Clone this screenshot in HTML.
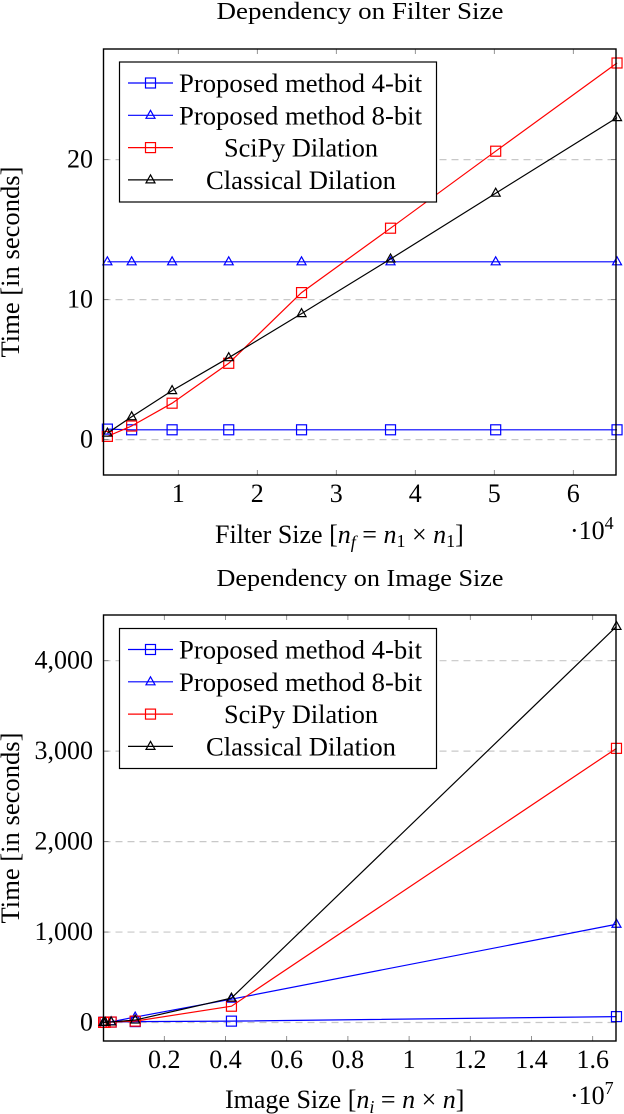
<!DOCTYPE html>
<html><head><meta charset="utf-8"><style>
html,body{margin:0;padding:0;background:#fff;}
svg{display:block;font-family:"Liberation Serif",serif;}
</style></head><body>
<svg id="chart" width="624" height="1114" viewBox="0 0 624 1114" xmlns="http://www.w3.org/2000/svg"></svg>
<script>
// ---- Top chart data ----
const filterSizes = [1024, 4096, 9216, 16384, 25600, 36864, 50176, 65536];
const filter4bit = [0.75, 0.7, 0.7, 0.7, 0.7, 0.7, 0.7, 0.7];
const filter8bit = [12.7, 12.7, 12.7, 12.7, 12.7, 12.7, 12.7, 12.7];
const filterScipy = [0.23, 0.97, 2.6, 5.45, 10.5, 15.1, 20.6, 26.9];
const filterClassical = [0.46, 1.63, 3.5, 5.85, 9.0, 12.9, 17.6, 23.0];
const filterXTicks = [1, 2, 3, 4, 5, 6];
const filterYTicks = [0, 10, 20];
// ---- Bottom chart data ----
const imageSizes = [16384, 65536, 262144, 1048576, 4194304, 16777216];
const image4bit = [2, 3, 5, 10, 15, 65];
const image8bit = [1, 2, 8, 60, 258, 1086];
const imageScipy = [1, 1, 5, 15, 180, 3031];
const imageClassical = [1, 2, 6, 27, 270, 4379];
const imageXTicks = [0.2, 0.4, 0.6, 0.8, 1, 1.2, 1.4, 1.6];
const imageYTicks = [0, 1000, 2000, 3000, 4000];
const imageYTickLabels = ["0", "1,000", "2,000", "3,000", "4,000"];

const NS = "http://www.w3.org/2000/svg";
const svg = document.getElementById("chart");
function mk(tag, attrs, parent) {
  const e = document.createElementNS(NS, tag);
  for (const k in attrs) e.setAttribute(k, attrs[k]);
  (parent || svg).appendChild(e);
  return e;
}

function drawChart(cfg) {
  const g = mk("g", {});
  
  
  const L = 103.5, R = 616, T = cfg.top, B = cfg.bottom;
  const xs = v => cfg.x0 + v * cfg.xk;
  const ys = v => cfg.y0 - v * cfg.yk;

  const title = mk("text", {x: 360, y: cfg.titleY, "text-anchor": "middle", "font-size": 24, textLength: 287, lengthAdjust: "spacingAndGlyphs"}, g);
  title.textContent = cfg.title;
  
  

  cfg.yTicks.forEach((t, i) => {
    const y = ys(t);
    const gl = mk("line", {x1: L, x2: R, y1: y, y2: y, stroke: "#c8c8c8", "stroke-width": 1.2, "stroke-dasharray": "7,5"}, g);
    
    
    mk("line", {x1: L, x2: L + 5, y1: y, y2: y, stroke: "#777", "stroke-width": 0.8}, g);
    mk("line", {x1: R - 5, x2: R, y1: y, y2: y, stroke: "#777", "stroke-width": 0.8}, g);
    const lb = mk("text", {x: 93, y: y + 8, "text-anchor": "end", "font-size": 26}, g);
    lb.textContent = cfg.yLabels[i];
    
    
  });
  cfg.xTicks.forEach(t => {
    const x = cfg.x0 + t * cfg.xTickK;
    mk("line", {x1: x, x2: x, y1: B, y2: B - 5, stroke: "#777", "stroke-width": 0.8}, g);
    mk("line", {x1: x, x2: x, y1: T, y2: T + 5, stroke: "#777", "stroke-width": 0.8}, g);
    const lb = mk("text", {x: x, y: B + 27, "text-anchor": "middle", "font-size": 26}, g);
    lb.textContent = String(t);
    
    
  });

  const clip = "clip-" + cfg.name;
  const cp = mk("clipPath", {id: clip}, g);
  mk("rect", {x: L - 8, y: T, width: R - L + 16, height: B - T}, cp);

  const series = [
    {name: "series-4bit", vals: cfg.s4, color: "#0000ff", marker: "sq", label: "Proposed method 4-bit"},
    {name: "series-8bit", vals: cfg.s8, color: "#0000ff", marker: "tri", label: "Proposed method 8-bit"},
    {name: "series-scipy", vals: cfg.ss, color: "#ff0000", marker: "sq", label: "SciPy Dilation"},
    {name: "series-classical", vals: cfg.sc, color: "#000000", marker: "tri", label: "Classical Dilation"}
  ];
  function marker(parent, m, x, y, color) {
    if (m === "sq") return mk("rect", {x: x - 5, y: y - 5, width: 10, height: 10, fill: "none", stroke: color, "stroke-width": 1.2}, parent);
    return mk("polygon", {points: `${x},${y - 5} ${x - 4.5},${y + 3} ${x + 4.5},${y + 3}`, fill: "none", stroke: color, "stroke-width": 1.2}, parent);
  }
  series.forEach(s => {
    const sg = mk("g", {"clip-path": `url(#${clip})`}, g);
    
    
    const pts = cfg.xv.map((v, i) => `${xs(v)},${ys(s.vals[i])}`).join(" ");
    mk("polyline", {points: pts, fill: "none", stroke: s.color, "stroke-width": 1.2}, sg);
    cfg.xv.forEach((v, i) => {
      const m = marker(sg, s.marker, xs(v), ys(s.vals[i]), s.color);
      
      
    });
  });

  const fr = mk("rect", {x: L, y: T, width: R - L, height: B - T, fill: "none", stroke: "#000", "stroke-width": 1.4}, g);
  
  

  const lg = mk("g", {}, g);
  
  
  const lt = cfg.legTop;
  mk("rect", {x: 119.5, y: lt, width: 317, height: 140, fill: "#fff", stroke: "#000", "stroke-width": 1.2}, lg);
  series.forEach((s, i) => {
    const y = lt + 21 + i * 32.3;
    const e = mk("g", {}, lg);
    
    
    mk("line", {x1: 128, x2: 173, y1: y, y2: y, stroke: s.color, "stroke-width": 1.2}, e);
    marker(e, s.marker, 150.5, y, s.color);
    let tx, tl;
    if (i < 2) { tx = 179; tl = 243; } else if (i === 2) { tx = 224; tl = 154; } else { tx = 206; tl = 190; }
    const t = mk("text", {x: tx, y: y + 9, "font-size": 26, textLength: tl, lengthAdjust: "spacingAndGlyphs"}, e);
    t.textContent = s.label;
  });

  const yl = mk("text", {x: 0, y: 0, "text-anchor": "middle", "font-size": 26, textLength: 191, lengthAdjust: "spacingAndGlyphs", transform: `translate(19,${cfg.yLabelY}) rotate(-90)`}, g);
  yl.textContent = "Time [in seconds]";
  
  

  const xl = mk("text", {x: cfg.xLabelX, y: cfg.xLabelY, "font-size": 26}, g);
  
  
  cfg.xLabelParts.forEach(p => {
    const ts = mk("tspan", p.attrs || {}, xl);
    ts.textContent = p.t;
  });
  const ex = mk("text", {x: 570, y: cfg.xLabelY - 4, "font-size": 26}, g);
  
  
  const a = mk("tspan", {}, ex); a.textContent = "·10";
  const b = mk("tspan", {dy: -10, "font-size": 18}, ex); b.textContent = cfg.exp;
}

drawChart({
  name: "filter-size-chart", title: "Dependency on Filter Size", titleY: 19,
  top: 49, bottom: 475,
  x0: 99.3, xk: 79 / 10000, xTickK: 79,
  y0: 439.6, yk: 14,
  xv: filterSizes, s4: filter4bit, s8: filter8bit, ss: filterScipy, sc: filterClassical,
  xTicks: filterXTicks, yTicks: filterYTicks, yLabels: filterYTicks.map(String),
  legTop: 62, yLabelY: 262,
  xLabelX: 215, xLabelY: 543,
  xLabelParts: [{t: "Filter Size ["}, {t: "n", attrs: {"font-style": "italic"}}, {t: "f", attrs: {"font-style": "italic", "font-size": 18, dy: 5}}, {t: " = ", attrs: {dy: -5}}, {t: "n", attrs: {"font-style": "italic"}}, {t: "1", attrs: {"font-size": 18, dy: 4}}, {t: " × ", attrs: {dy: -4}}, {t: "n", attrs: {"font-style": "italic"}}, {t: "1", attrs: {"font-size": 18, dy: 4}}, {t: "]", attrs: {dy: -4}}],
  exp: "4"
});
drawChart({
  name: "image-size-chart", title: "Dependency on Image Size", titleY: 586,
  top: 615, bottom: 1041,
  x0: 103.1, xk: 306 / 1e7, xTickK: 306,
  y0: 1022.5, yk: 0.09045,
  xv: imageSizes, s4: image4bit, s8: image8bit, ss: imageScipy, sc: imageClassical,
  xTicks: imageXTicks, yTicks: imageYTicks, yLabels: imageYTickLabels,
  legTop: 628.5, yLabelY: 828,
  xLabelX: 225, xLabelY: 1108,
  xLabelParts: [{t: "Image Size ["}, {t: "n", attrs: {"font-style": "italic"}}, {t: "i", attrs: {"font-style": "italic", "font-size": 18, dy: 5}}, {t: " = ", attrs: {dy: -5}}, {t: "n", attrs: {"font-style": "italic"}}, {t: " × "}, {t: "n", attrs: {"font-style": "italic"}}, {t: "]"}],
  exp: "7"
});
</script>
</body></html>
